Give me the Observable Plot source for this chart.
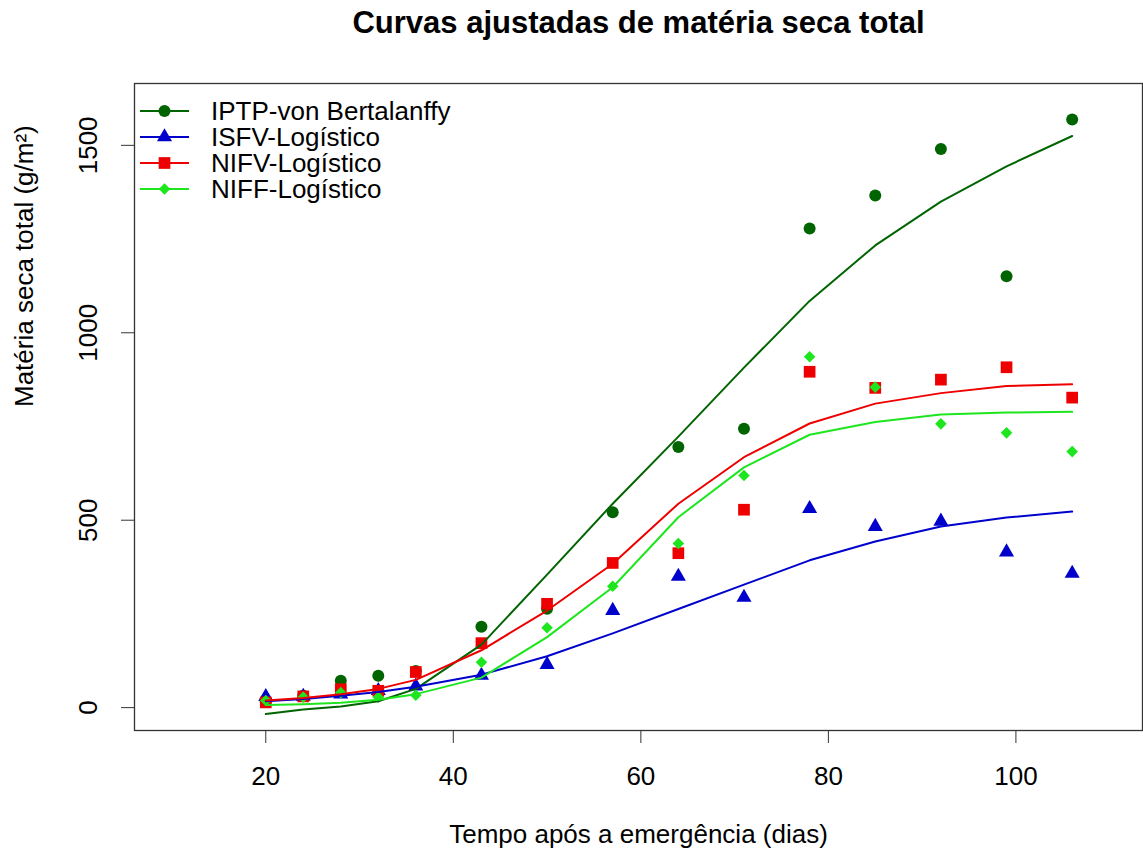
<!DOCTYPE html>
<html><head><meta charset="utf-8">
<script src="https://cdn.jsdelivr.net/npm/d3@7"></script>
<script src="https://cdn.jsdelivr.net/npm/@observablehq/plot@0.6"></script>
<style>
body{margin:0;background:#fff;font-family:"Liberation Sans",Arial,sans-serif;}
#wrap{position:relative;width:1143px;height:860px;}
#title{position:absolute;left:134px;width:1009px;top:0;height:60px;text-align:center;font-weight:bold;font-size:31px;line-height:31px;padding-top:7px;box-sizing:border-box;color:#000;}
#chart{position:absolute;left:0;top:60px;}
</style></head><body>
<div id="wrap"><div id="title">Curvas ajustadas de matéria seca total</div><div id="chart"></div></div>
<script>
const days = [20,24,28,32,36,43,50,57,64,71,78,85,92,99,106];
const seriesNames = ["IPTP-von Bertalanffy","ISFV-Logístico","NIFV-Logístico","NIFF-Logístico"];
const seriesColors = ["#006400","#0000cd","#ee0000","#1ee61e"];
const seriesSymbols = ["circle","triangle","square","diamond2"];
const seriesR = [6,5.6,6.6,5.2];
const obsIPTP = [15,32,72,85,98,216,264,521,695,744,1278,1366,1490,1151,1569];
const fitIPTP = [-17,-5,3,17,50,168,355,544,723,907,1085,1233,1350,1444,1525];
const obsISFV = [29,30,36,45,57,86,115,259,350,294,531,483,497,415,358];
const fitISFV = [17,23,32,42,56,88,137,198,263,328,393,443,483,507,523];
const obsNIFV = [14,30,49,45,95,172,277,386,412,528,896,853,875,908,827];
const fitNIFV = [19,26,36,50,74,153,259,384,544,668,758,811,839,858,863];
const obsNIFF = [19,28,40,28,33,121,213,324,438,619,936,855,757,733,683];
const fitNIFF = [7,9,13,21,36,80,188,321,508,641,728,762,782,787,789];
const xTicks = [20,40,60,80,100];
const yTicks = [0,500,1000,1500];
const xLabel = "Tempo após a emergência (dias)";
const yLabel = "Matéria seca total (g/m²)";

const obsAll = [obsIPTP, obsISFV, obsNIFV, obsNIFF];
const fitAll = [fitIPTP, fitISFV, fitNIFV, fitNIFF];
const tables = seriesNames.map((name, i) => days.map((d, j) => ({day: d, obs: obsAll[i][j], fit: fitAll[i][j], s: name})));

const marks = [];
tables.forEach((t, i) => {
  marks.push(Plot.dot(t, {x: "day", y: "obs", symbol: seriesSymbols[i], r: seriesR[i], fill: seriesColors[i], stroke: "none"}));
});
tables.forEach((t, i) => {
  marks.push(Plot.line(t, {x: "day", y: "fit", stroke: seriesColors[i], strokeWidth: 2}));
});
marks.push(Plot.frame({stroke: "#333", strokeWidth: 1.3}));
marks.push(Plot.axisX(xTicks, {tickSize: 13, tickPadding: 23, fontSize: 26, stroke: "#333", label: null}));
marks.push(Plot.axisY(yTicks, {tickSize: 13, tickFormat: () => "", stroke: "#333", label: null}));
marks.push(Plot.text(yTicks, {y: d => d, text: d => String(d), frameAnchor: "left", dx: -46, rotate: -90, textAnchor: "middle", fontSize: 26, fill: "#000"}));
marks.push(Plot.text([xLabel], {text: d => d, frameAnchor: "bottom", dy: 112, fontSize: 26, fill: "#000"}));
marks.push(Plot.text([yLabel], {text: d => d, frameAnchor: "left", dx: -110, rotate: -90, fontSize: 26, fill: "#000"}));

const chart = Plot.plot({
  width: 1143, height: 800,
  marginLeft: 134, marginRight: 1, marginTop: 23, marginBottom: 130,
  x: {domain: [6, 113.5], axis: null},
  y: {domain: [-61, 1665], axis: null},
  style: {fontFamily: "Liberation Sans, Arial, sans-serif", fontSize: "26px", color: "#000", background: "#fff"},
  marks
});
document.getElementById("chart").appendChild(chart);

// legend inside the plot frame (top-left)
const svg = d3.select(chart);
const lg = svg.append("g").attr("font-family", "Liberation Sans, Arial, sans-serif").attr("font-size", 26).attr("text-anchor", "start");
const symMap = {circle: d3.symbolCircle, triangle: d3.symbolTriangle, square: d3.symbolSquare, diamond2: d3.symbolDiamond2};
seriesNames.forEach((name, i) => {
  const cy = 51 + i * 26;
  const g = lg.append("g").attr("transform", `translate(0,${cy})`);
  g.append("line").attr("x1", 140).attr("x2", 189).attr("y1", 0).attr("y2", 0).attr("stroke", seriesColors[i]).attr("stroke-width", 2);
  g.append("path").attr("transform", "translate(164.5,0)").attr("d", d3.symbol(symMap[seriesSymbols[i]], Math.PI * seriesR[i] * seriesR[i])()).attr("fill", seriesColors[i]);
  g.append("text").attr("x", 211).attr("y", 0).attr("dy", "0.36em").attr("text-anchor", "start").attr("fill", "#000").text(name);
});
</script>
</body></html>
